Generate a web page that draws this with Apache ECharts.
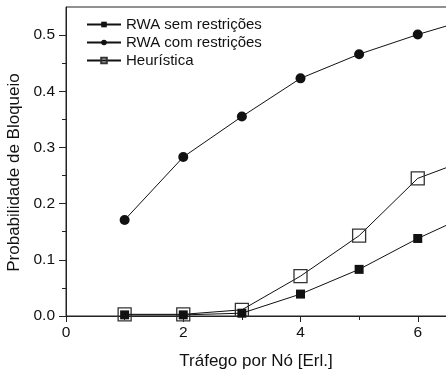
<!DOCTYPE html>
<html>
<head>
<meta charset="utf-8">
<script src="https://cdn.jsdelivr.net/npm/echarts@6/dist/echarts.min.js"></script>
<style>
  html, body { margin: 0; padding: 0; background: #fff; }
  #chart { width: 446px; height: 376px; }
</style>
</head>
<body>
<div id="chart"></div>
<script>
// Traffic per node (Erlang) and blocking probability for each strategy
const traffic = [1, 2, 3, 4, 5, 6, 7];
const rwaSemRestricoes = [0.002, 0.002, 0.005, 0.039, 0.083, 0.138, 0.186];
const rwaComRestricoes = [0.171, 0.283, 0.355, 0.423, 0.466, 0.501, 0.532];
const heuristica = [0.003, 0.003, 0.011, 0.071, 0.143, 0.245, 0.284];

const seriesNames = ['RWA sem restrições', 'RWA com restrições', 'Heurística'];
const yMajorTicks = [0, 0.1, 0.2, 0.3, 0.4, 0.5];
const yMinorTicks = [0.05, 0.15, 0.25, 0.35, 0.45];
const xTitle = 'Tráfego por Nó [Erl.]';
const yTitle = 'Probabilidade de Bloqueio';

const FONT = '"Liberation Sans", Arial, sans-serif';
const INK = '#111';

function pairs(ys) {
  return traffic.map((x, i) => [x, ys[i]]);
}

const chart = echarts.init(document.getElementById('chart'), null, { renderer: 'canvas' });

const lineStyle = { color: INK, width: 1 };

chart.setOption({
  animation: false,
  backgroundColor: '#fff',
  textStyle: { fontFamily: FONT, color: INK },
  title: {
    text: xTitle,
    left: 256,
    top: 361,
    textAlign: 'center',
    textVerticalAlign: 'middle',
    padding: 0,
    textStyle: { fontFamily: FONT, fontSize: 17, fontWeight: 'normal', color: INK }
  },
  grid: {
    left: 66, top: 7, bottom: 60, right: -89,
    outerBoundsMode: 'none',
    containLabel: false,
    show: true, borderColor: '#222', borderWidth: 1, backgroundColor: 'transparent'
  },
  legend: {
    orient: 'vertical',
    left: 86, top: 17,
    padding: 0,
    itemGap: 3,
    itemWidth: 34, itemHeight: 7,
    textStyle: { fontFamily: FONT, fontSize: 15, color: INK },
    data: seriesNames
  },
  xAxis: {
    type: 'value', min: 0, max: 8, interval: 2,
    axisLine: { lineStyle: { color: '#222', width: 1 } },
    axisTick: { show: true, length: 6, lineStyle: { color: '#222' } },
    minorTick: { show: true, splitNumber: 2, length: 4, lineStyle: { color: '#222' } },
    splitLine: { show: false },
    axisLabel: { fontFamily: FONT, fontSize: 15.5, color: INK, margin: 9 }
  },
  yAxis: [
    {
      type: 'value', min: 0, max: 0.55, interval: 0.1,
      name: yTitle, nameLocation: 'middle', nameGap: 39,
      nameTextStyle: { fontFamily: FONT, fontSize: 17, color: INK, padding: [0, 22, 0, 0] },
      axisLine: { show: true, lineStyle: { color: '#222', width: 1 } },
      axisTick: { show: true, length: 7, customValues: yMajorTicks, lineStyle: { color: '#222' } },
      splitLine: { show: false },
      axisLabel: {
        fontFamily: FONT, fontSize: 15.5, color: INK, margin: 11,
        customValues: yMajorTicks,
        formatter: v => v.toFixed(1)
      }
    },
    {
      type: 'value', min: 0, max: 0.55, position: 'left',
      axisLine: { show: false },
      axisTick: { show: true, length: 4, customValues: yMinorTicks, lineStyle: { color: '#222' } },
      axisLabel: { show: false },
      splitLine: { show: false }
    }
  ],
  series: [
    {
      name: seriesNames[0], type: 'line', data: pairs(rwaSemRestricoes),
      symbol: 'rect', symbolSize: 9,
      lineStyle: lineStyle,
      itemStyle: { color: INK, borderWidth: 0 },
      z: 3
    },
    {
      name: seriesNames[1], type: 'line', data: pairs(rwaComRestricoes),
      symbol: 'circle', symbolSize: 10,
      lineStyle: lineStyle,
      itemStyle: { color: INK, borderWidth: 0 },
      z: 3
    },
    {
      name: seriesNames[2], type: 'line', data: pairs(heuristica),
      symbol: 'rect', symbolSize: 13,
      lineStyle: lineStyle,
      itemStyle: { color: 'rgba(255,255,255,0)', borderColor: '#333', borderWidth: 1.3 },
      z: 2
    }
  ]
});
</script>
</body>
</html>
